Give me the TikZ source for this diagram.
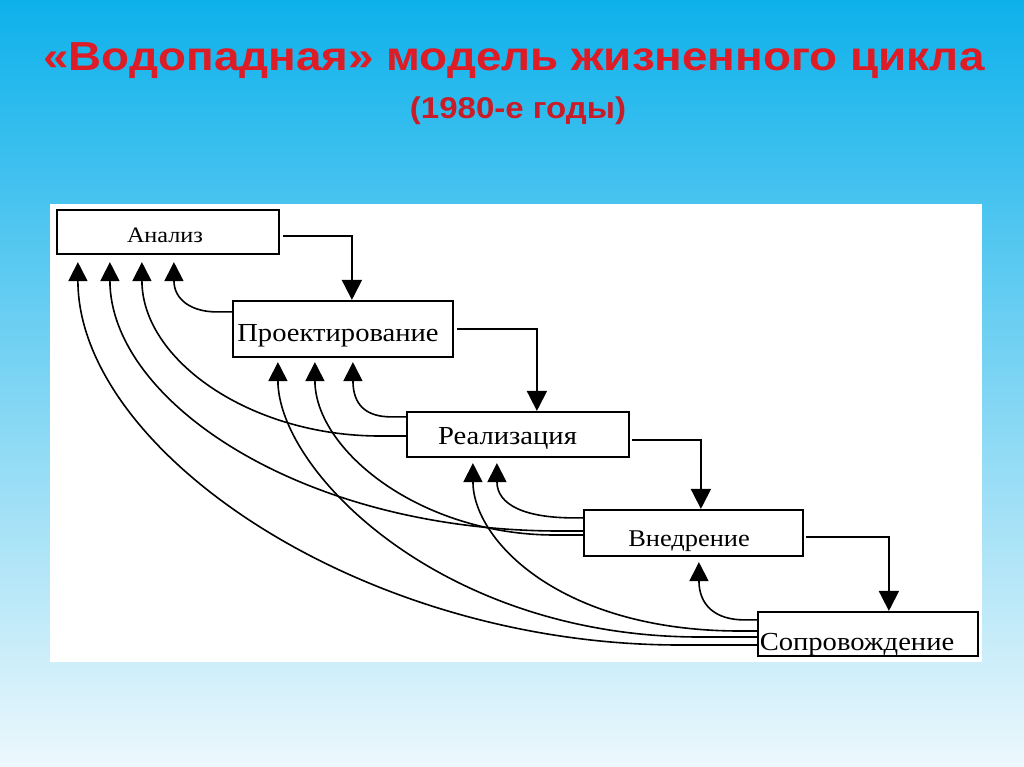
\documentclass[tikz,border=0pt]{standalone}
\usepackage{fontspec}
\newfontfamily\titlefont[FakeStretch=1.13]{Liberation Sans}
\newfontfamily\subfont[FakeStretch=1.1]{Liberation Sans}
\newfontfamily\diagfont[FakeStretch=1.1]{Liberation Serif}
\usetikzlibrary{arrows.meta,calc}
\definecolor{bgtop}{RGB}{14,177,235}
\definecolor{bgmid}{RGB}{140,214,243}
\definecolor{bgbot}{RGB}{236,248,252}
\definecolor{titlered}{RGB}{222,28,38}
\definecolor{subred}{RGB}{200,28,40}
\begin{document}
\begin{tikzpicture}[x=1pt,y=-1pt,
  stagebox/.style={draw=black, line width=2.2pt, fill=white, inner sep=0pt, text depth=0pt},
  fwd/.style={line width=1.9pt, -{Triangle[width=20pt,length=20pt]}},
  back/.style={line width=1.6pt, -{Triangle[width=19pt,length=19pt]}},
]
\useasboundingbox (0,0) rectangle (1024,767);
\shade[top color=bgtop, middle color=bgmid, bottom color=bgbot] (0,0) rectangle (1024,767);
\fill[white] (50,204) rectangle (982,662);

\node[anchor=base, text=titlered, font=\titlefont\bfseries\fontsize{40.5}{46}\selectfont] (title) at (514,71) {«Водопадная» модель жизненного цикла};
\node[anchor=base, text=subred, font=\subfont\bfseries\fontsize{30}{35}\selectfont] (subtitle) at (518,119) {(1980-е годы)};

\node[stagebox, minimum width=222pt, minimum height=44pt, text height=20pt, font=\diagfont\fontsize{22}{26}\selectfont] (ana) at (168,232) {\hspace*{-6pt}Анализ};
\node[stagebox, minimum width=220pt, minimum height=56pt, text height=24pt, font=\diagfont\fontsize{26}{30}\selectfont] (pro) at (343,329) {\hspace*{-10pt}Проектирование};
\node[stagebox, minimum width=222pt, minimum height=45pt, text height=19pt, font=\diagfont\fontsize{26}{30}\selectfont] (rea) at (518,434.5) {\hspace*{-21pt}Реализация};
\node[stagebox, minimum width=219pt, minimum height=46pt, text height=26pt, font=\diagfont\fontsize{24}{28}\selectfont] (vne) at (693.5,533) {\hspace*{-9pt}Внедрение};
\node[stagebox, minimum width=220pt, minimum height=44pt, text height=32pt, font=\diagfont\fontsize{26}{30}\selectfont] (sop) at (868,634) {\hspace*{-22pt}Сопровождение};

% forward arrows
\draw[fwd] ($(ana.east)+(3,4)$) -| ($(pro.north west)+(120,0)$);
\draw[fwd] ($(pro.east)+(3,0)$) -| ($(rea.north west)+(131,0)$);
\draw[fwd] ($(rea.east)+(2,5.5)$) -| ($(vne.north west)+(118,0)$);
\draw[fwd] ($(vne.east)+(2,4)$) -| ($(sop.north west)+(132,0)$);

% feedback arrows to Анализ
\draw[back] ($(pro.north west)+(0,12)$) -- ++(-15,0) .. controls (192,312) and (174,300) .. ($(ana.south west)+(118,7)$);
\draw[back] ($(rea.west)+(0,1.5)$) -- ++(-26,0) .. controls (250,436) and (142,360) .. ($(ana.south west)+(86,7)$);
\draw[back] ($(vne.west)+(0,-2)$) -- ++(-23,0) .. controls (300,531) and (110,400) .. ($(ana.south west)+(54,7)$);
\draw[back] ($(sop.west)+(0,11)$) -- ++(-77,0) .. controls (360,645) and (78,450) .. ($(ana.south west)+(22,7)$);

% feedback arrows to Проектирование
\draw[back] ($(rea.north west)+(0,6)$) -- ++(-14,0) .. controls (366,417) and (353,405) .. ($(pro.south west)+(121,4)$);
\draw[back] ($(vne.west)+(0,2)$) -- ++(-28,0) .. controls (420,535) and (315,450) .. ($(pro.south west)+(83,4)$);
\draw[back] ($(sop.west)+(0,3)$) -- ++(-57,0) .. controls (440,637) and (278,470) .. ($(pro.south west)+(46,4)$);

% feedback arrows to Реализация
\draw[back] ($(vne.north west)+(0,9)$) -- ++(-8,0) .. controls (525,518) and (497,505) .. ($(rea.south west)+(91,5)$);
\draw[back] ($(sop.west)+(0,-3)$) -- ++(-17,0) .. controls (560,631) and (473,540) .. ($(rea.south west)+(67,5)$);

% feedback arrow to Внедрение
\draw[back] ($(sop.north west)+(0,9)$) -- ++(-12,0) .. controls (715,620) and (699,605) .. ($(vne.south west)+(116,5)$);
\end{tikzpicture}
\end{document}
